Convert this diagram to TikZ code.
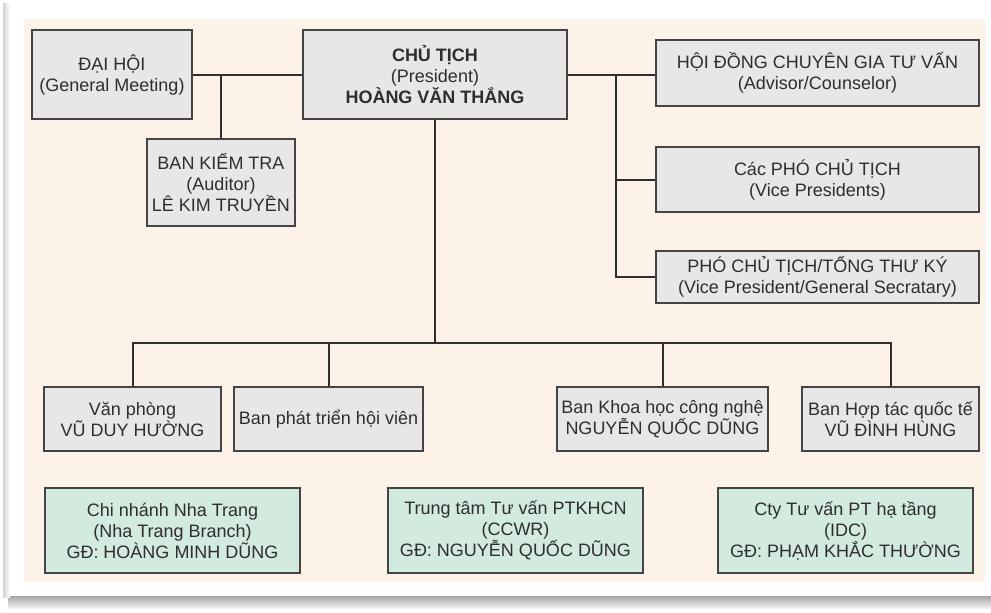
\documentclass[tikz,border=0pt]{standalone}
\usepackage{fontspec}
\setmainfont{Liberation Sans}
\usepackage{tikz}
\usetikzlibrary{calc}

\definecolor{panelbg}{HTML}{FCF2E7}
\definecolor{boxgray}{HTML}{E7E7E8}
\definecolor{boxgreen}{HTML}{D3EADE}
\definecolor{inkgray}{HTML}{2E2E2E}
\definecolor{rimgray}{HTML}{444444}

\begin{document}
\begin{tikzpicture}[x=1pt,y=-1pt,
    orgbox/.style={draw=rimgray, line width=1.5pt, text=inkgray, align=center, inner sep=2pt,
                   font=\fontsize{18}{21}\selectfont},
    graybox/.style={orgbox, fill=boxgray},
    greenbox/.style={orgbox, fill=boxgreen, minimum width=255pt, minimum height=85pt},
    link/.style={draw=inkgray, line width=2pt}]

    \useasboundingbox (0,0) rectangle (991,613);
    \fill[white] (0,0) rectangle (991,613);

    \shade[top color=gray!75, bottom color=white] (8,595) rectangle (991,610);
    \shade[left color=gray!35, right color=white] (3,3) rectangle (10,597);
    \fill[white] (10,3) rectangle (991,596);
    \fill[panelbg] (24,19) rectangle (985,582);

    \node[graybox, minimum width=160pt, minimum height=89pt] (daihoi) at (112,74.5) {ĐẠI HỘI\\(General Meeting)};
    \node[graybox, minimum width=264pt, minimum height=89pt] (chutich) at (435,74.5) {\textbf{CHỦ TỊCH}\\(President)\\\textbf{HOÀNG VĂN THẮNG}};
    \node[graybox, minimum width=148pt, minimum height=87pt] (kiemtra) at (221,182.5) {BAN KIỂM TRA\\(Auditor)\\LÊ KIM TRUYỀN};

    \node[graybox, minimum width=323pt, minimum height=66pt] (hoidong) at (817.5,73) {HỘI ĐỒNG CHUYÊN GIA TƯ VẤN\\(Advisor/Counselor)};
    \node[graybox, minimum width=323pt, minimum height=65pt] (phochutich) at (817.5,179.5) {Các PHÓ CHỦ TỊCH\\(Vice Presidents)};
    \node[graybox, minimum width=323pt, minimum height=52pt] (tongthuky) at (817.5,277) {PHÓ CHỦ TỊCH/TỔNG THƯ KÝ\\(Vice President/General Secratary)};

    \node[graybox, minimum width=177pt, minimum height=64pt] (vanphong) at (132.5,419) {Văn phòng\\VŨ DUY HƯỜNG};
    \node[graybox, minimum width=189pt, minimum height=64pt] (hoivien) at (328.5,419) {Ban phát triển hội viên};
    \node[graybox, minimum width=211pt, minimum height=64pt] (khoahoc) at (662.5,419) {Ban Khoa học công nghệ\\NGUYỄN QUỐC DŨNG};
    \node[graybox, minimum width=177pt, minimum height=64pt] (hoptac) at (890.5,419) {Ban Hợp tác quốc tế\\VŨ ĐÌNH HÙNG};

    \node[greenbox] (nhatrang) at (172.5,530.5) {Chi nhánh Nha Trang\\(Nha Trang Branch)\\GĐ: HOÀNG MINH DŨNG};
    \node[greenbox] (trungtam) at (515.5,530.5) {Trung tâm Tư vấn PTKHCN\\(CCWR)\\GĐ: NGUYỄN QUỐC DŨNG};
    \node[greenbox] (haTang) at (845.5,530.5) {Cty Tư vấn PT hạ tầng\\(IDC)\\GĐ: PHẠM KHẮC THƯỜNG};

    \coordinate (rightbus) at (616,74);
    \coordinate (lowbus) at (435,343);

    \draw[link] (daihoi.east) -- (chutich.west);
    \draw[link] (kiemtra.north) -- (kiemtra.north |- daihoi.east);

    \draw[link] (chutich.east) -- (chutich.east -| hoidong.west);
    \draw[link] (rightbus) |- (phochutich.west);
    \draw[link] (rightbus) |- (tongthuky.west);

    \draw[link] (chutich.south) -- (lowbus);
    \draw[link] (vanphong.north) -- (vanphong.north |- lowbus) -- (hoptac.north |- lowbus) -- (hoptac.north);
    \draw[link] (hoivien.north) -- (hoivien.north |- lowbus);
    \draw[link] (khoahoc.north) -- (khoahoc.north |- lowbus);

\end{tikzpicture}
\end{document}
